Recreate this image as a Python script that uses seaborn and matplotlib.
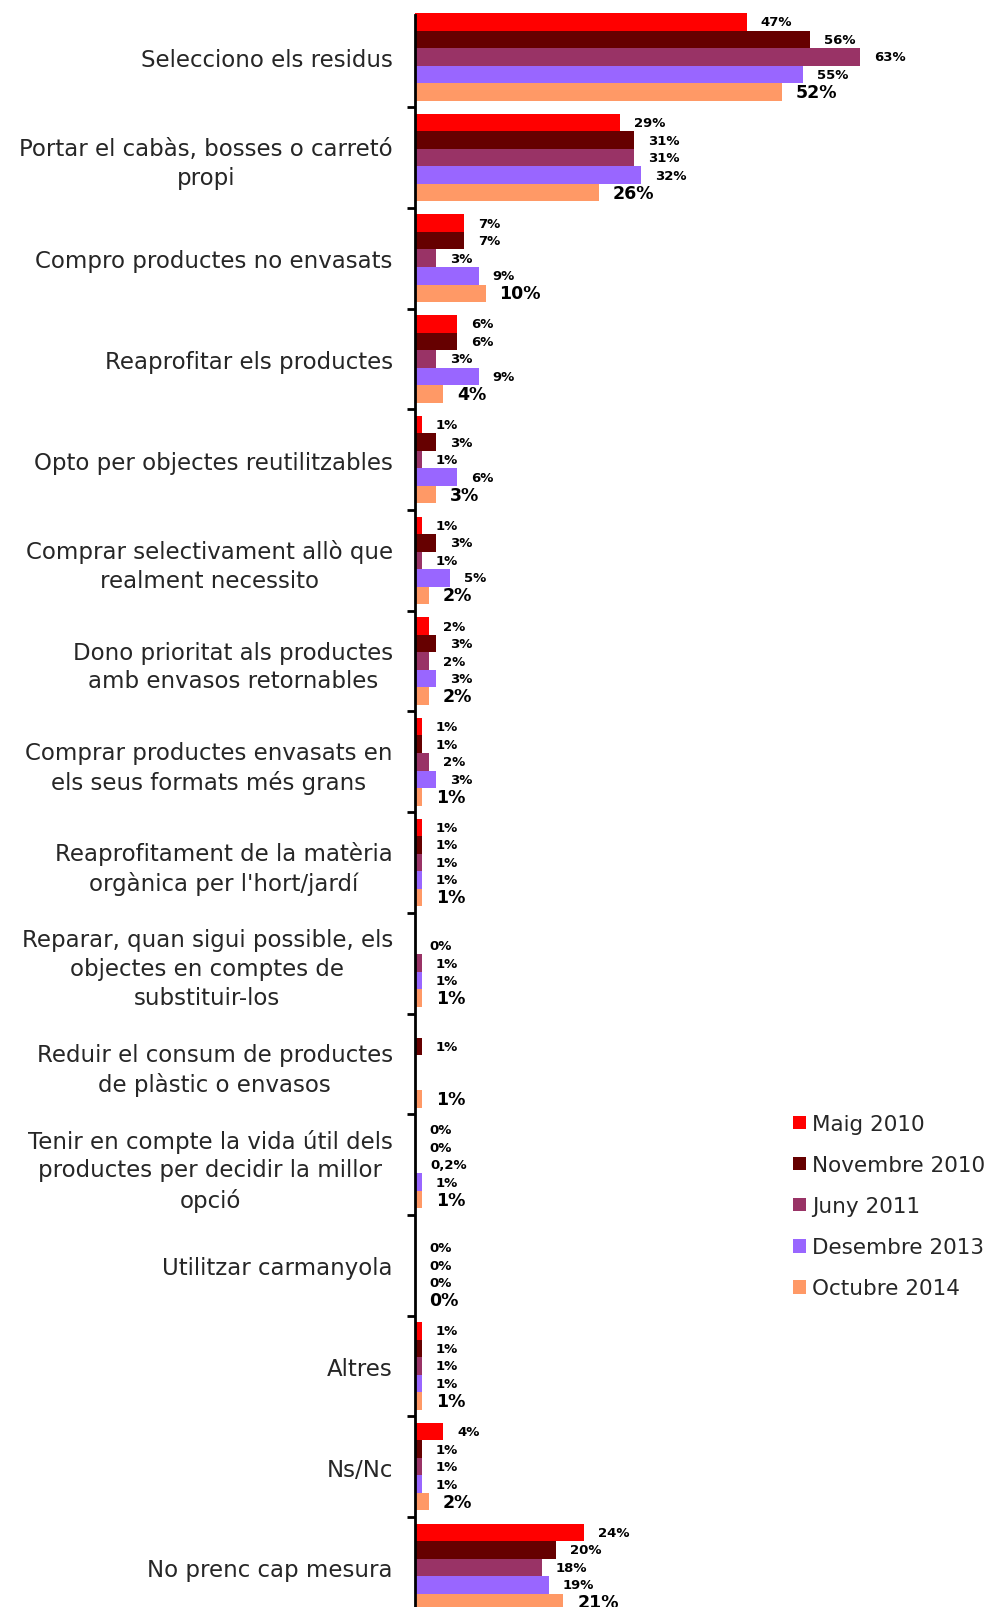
import numpy as np
import pandas as pd
import matplotlib
matplotlib.use("Agg")
import matplotlib.pyplot as plt
import seaborn as sns

categories = [
    "Selecciono els residus",
    "Portar el cabàs, bosses o carretó\npropi",
    "Compro productes no envasats",
    "Reaprofitar els productes",
    "Opto per objectes reutilitzables",
    "Comprar selectivament allò que\nrealment necessito",
    "Dono prioritat als productes\namb envasos retornables",
    "Comprar productes envasats en\nels seus formats més grans",
    "Reaprofitament de la matèria\norgànica per l'hort/jardí",
    "Reparar, quan sigui possible, els\nobjectes en comptes de\nsubstituir-los",
    "Reduir el consum de productes\nde plàstic o envasos",
    "Tenir en compte la vida útil dels\nproductes per decidir la millor\nopció",
    "Utilitzar carmanyola",
    "Altres",
    "Ns/Nc",
    "No prenc cap mesura",
]

series = ["Maig 2010", "Novembre 2010", "Juny 2011", "Desembre 2013", "Octubre 2014"]
colors = ["#FF0000", "#660000", "#993366", "#9966FF", "#FF9966"]

nan = np.nan
maig_2010 = [47, 29, 7, 6, 1, 1, 2, 1, 1, nan, nan, 0, nan, 1, 4, 24]
novembre_2010 = [56, 31, 7, 6, 3, 3, 3, 1, 1, 0, 1, 0, 0, 1, 1, 20]
juny_2011 = [63, 31, 3, 3, 1, 1, 2, 2, 1, 1, nan, 0.2, 0, 1, 1, 18]
desembre_2013 = [55, 32, 9, 9, 6, 5, 3, 3, 1, 1, nan, 1, 0, 1, 1, 19]
octubre_2014 = [52, 26, 10, 4, 3, 2, 2, 1, 1, 1, 1, 1, 0, 1, 2, 21]

values = [maig_2010, novembre_2010, juny_2011, desembre_2013, octubre_2014]

rows = []
for s, vals in zip(series, values):
    for c, v in zip(categories, vals):
        rows.append({"categoria": c, "periode": s, "valor": v})
df = pd.DataFrame(rows)

sns.set_style("white")
plt.rcParams["font.family"] = ["DejaVu Sans"]

W, H = 992, 1608
fig = plt.figure(figsize=(W / 100, H / 100), dpi=100)
group_px = 100.7
top_px = 7.5
ax_h = group_px * len(categories)
ax = fig.add_axes([415 / W, 1 - (top_px + ax_h) / H, (W - 415) / W, ax_h / H])

sns.barplot(
    data=df, y="categoria", x="valor", hue="periode",
    order=categories, hue_order=series, palette=colors,
    orient="h", width=0.87, gap=0, errorbar=None, ax=ax, legend=True,
    saturation=1, linewidth=0,
)

px_per_unit = 7.06
ax.set_xlim(0, (W - 415) / px_per_unit)
ax.set_ylim(len(categories) - 0.5, -0.5)

# value labels beside each bar
for k, cont in enumerate(ax.containers):
    big = (k == len(series) - 1)
    for bar in cont:
        w = bar.get_width()
        if w is None or np.isnan(w):
            continue
        txt = (f"{int(w)}%" if float(w).is_integer() else f"{w:g}%".replace(".", ","))
        yc = bar.get_y() + bar.get_height() / 2
        ax.annotate(txt, xy=(w, yc), xytext=(10, 0), textcoords="offset points",
                    ha="left", va="center", fontsize=12.5 if big else 9.5,
                    fontweight="bold", color="black")

# axes styling
for side in ["top", "right", "bottom"]:
    ax.spines[side].set_visible(False)
ax.spines["left"].set_linewidth(2)
ax.spines["left"].set_color("black")
ax.spines["left"].set_bounds(-0.42, len(categories) - 0.5)
ax.set_xticks([])
ax.set_xlabel("")
ax.set_ylabel("")
ax.set_yticks(range(len(categories)))
ax.set_yticklabels(categories, fontsize=16.5)
for lab in ax.get_yticklabels():
    lab.set_multialignment("center")
    lab.set_linespacing(1.32)
ax.tick_params(axis="y", which="major", length=0, pad=16)
ax.set_yticks(np.arange(0.5, len(categories), 1.0), minor=True)
ax.tick_params(axis="y", which="minor", length=6, width=2, color="black", left=True)

handles, labels = ax.get_legend_handles_labels()
ax.get_legend().remove()
fig.legend(handles, labels, loc="upper left",
           bbox_to_anchor=(793 / W, 1 - 1115 / H),
           frameon=False, fontsize=15.5, handlelength=0.6, handleheight=0.6,
           handletextpad=0.3, labelspacing=0.98, borderpad=0, borderaxespad=0)

fig.savefig("out.png", dpi=100)
